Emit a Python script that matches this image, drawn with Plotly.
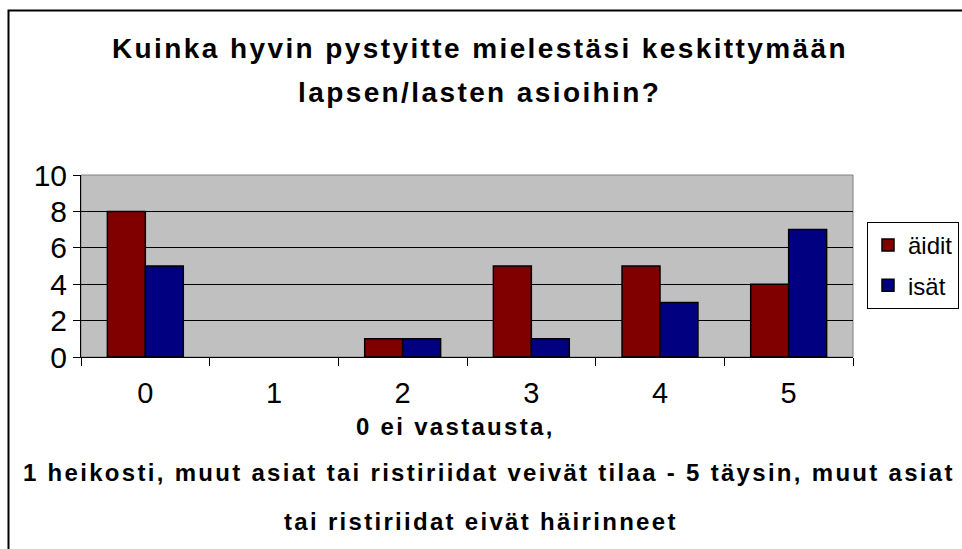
import plotly.graph_objects as go

categories = ["0", "1", "2", "3", "4", "5"]
aidit = [8, 0, 1, 5, 5, 4]
isat = [5, 0, 1, 1, 3, 7]
y_ticks = [0, 2, 4, 6, 8, 10]

title_lines = ["Kuinka hyvin pystyitte mielestäsi keskittymään", "lapsen/lasten asioihin?"]
xtitle_lines = ["0 ei vastausta,",
                "1 heikosti, muut asiat tai ristiriidat veivät tilaa - 5 täysin, muut asiat",
                "tai ristiriidat eivät häirinneet"]

FONT = "Liberation Sans, Arial, sans-serif"
W, H = 962, 549
L, R, T, B = 81, 109, 175, 192
PW = W - L - R
PH = H - T - B

def px_x(px):
    return (px - L) / PW

def px_y(py):
    return (H - B - py) / PH

def spaced(txt, ls):
    return f"<span style='letter-spacing:{ls}px'><b>{txt}</b></span>"

fig = go.Figure()
fig.add_trace(go.Bar(x=categories, y=aidit, name="äidit", legendgroup="a",
                     marker=dict(color="#800000",
                                 line=dict(color="black", width=[1.5 if v > 0 else 0 for v in aidit]))))
fig.add_trace(go.Bar(x=categories, y=isat, name="isät", legendgroup="b",
                     marker=dict(color="#000080",
                                 line=dict(color="black", width=[1.5 if v > 0 else 0 for v in isat]))))

annotations = []
for txt, py in zip(title_lines, [48, 92]):
    annotations.append(dict(text=spaced(txt, 2.4), x=px_x(480), y=px_y(py), xref="paper", yref="paper",
                            showarrow=False, xanchor="center", yanchor="middle",
                            font=dict(family=FONT, size=28, color="black")))
for txt, cx, py in zip(xtitle_lines, [455, 489, 481], [426, 472, 521]):
    annotations.append(dict(text=spaced(txt, 2.3), x=px_x(cx), y=px_y(py), xref="paper", yref="paper",
                            showarrow=False, xanchor="center", yanchor="middle",
                            font=dict(family=FONT, size=24, color="black")))

shapes = [
    dict(type="rect", xref="paper", yref="paper", x0=0, x1=1, y0=0, y1=1,
         line=dict(color="#808080", width=1), layer="below"),
    dict(type="rect", xref="paper", yref="paper", x0=px_x(8.5), x1=px_x(990), y0=px_y(580), y1=px_y(10.5),
         line=dict(color="black", width=2)),
]

fig.update_layout(
    width=W, height=H,
    margin=dict(l=L, r=R, t=T, b=B, autoexpand=False),
    paper_bgcolor="white",
    plot_bgcolor="#C0C0C0",
    barmode="group",
    bargap=0.41,
    bargroupgap=0,
    showlegend=True,
    legend=dict(x=px_x(867), y=px_y(222), xanchor="left", yanchor="top",
                bordercolor="black", borderwidth=1, bgcolor="white",
                font=dict(family=FONT, size=24, color="black"),
                tracegroupgap=6, itemwidth=30),
    annotations=annotations,
    shapes=shapes,
    font=dict(family=FONT, color="black"),
)
fig.update_xaxes(type="category", showline=True, linecolor="black", linewidth=1,
                 ticks="outside", tickson="boundaries", ticklen=8, tickcolor="black",
                 ticklabelstandoff=10,
                 tickfont=dict(family=FONT, size=29, color="black"), showgrid=False)
fig.update_yaxes(range=[0, 10], tickvals=y_ticks, showline=True, linecolor="black", linewidth=1,
                 ticks="outside", ticklen=7, tickcolor="black",
                 tickfont=dict(family=FONT, size=30, color="black"),
                 showgrid=True, gridcolor="black", gridwidth=1, zeroline=False)

fig.write_html("out.html", config={"displayModeBar": False},
               post_script="document.body.style.margin='0px';document.body.style.overflow='hidden';")
